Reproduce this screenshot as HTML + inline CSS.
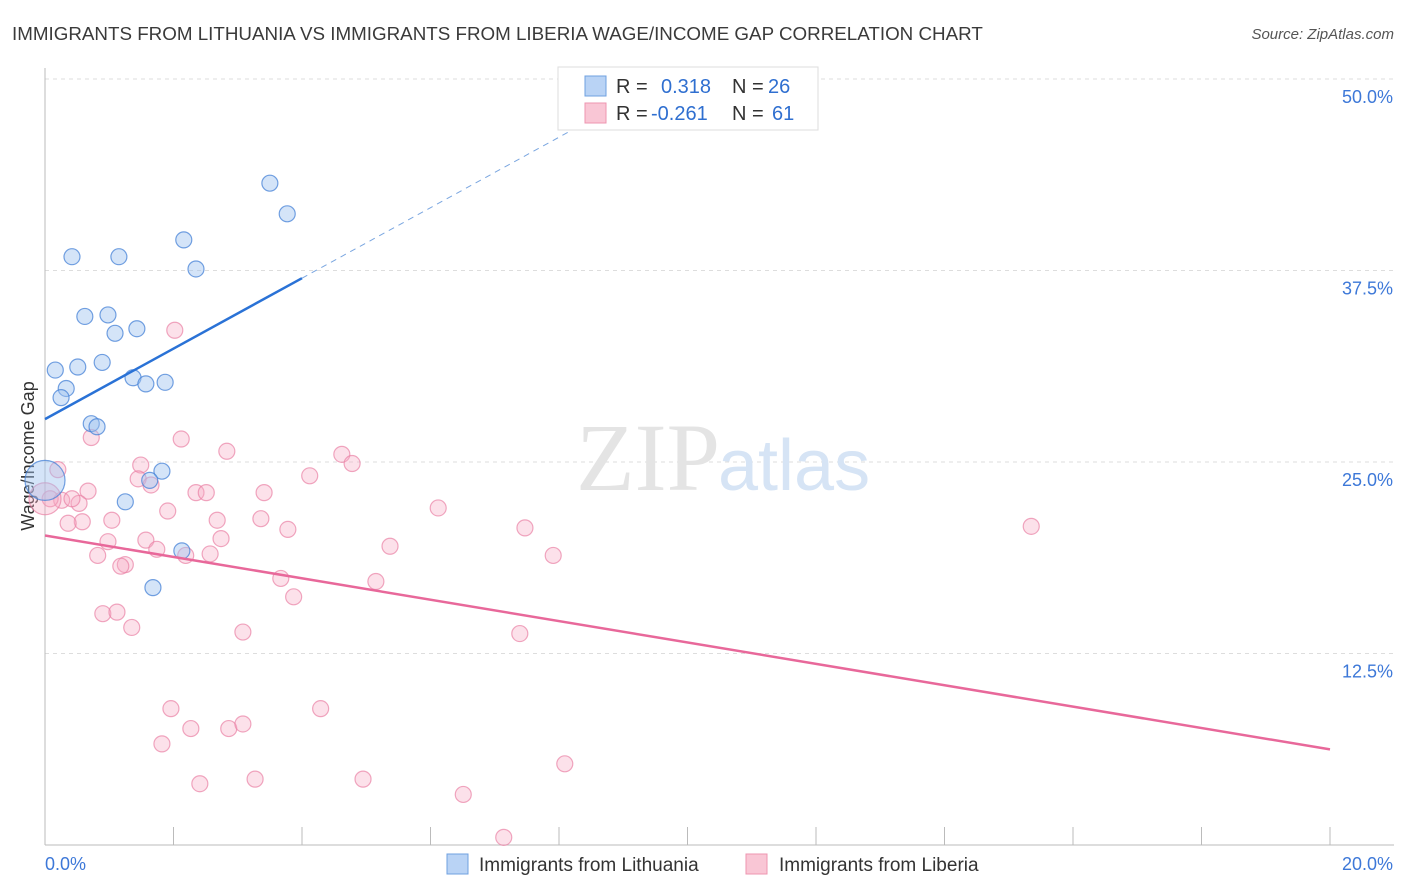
<!DOCTYPE html>
<html><head><meta charset="utf-8"><style>
body{margin:0;background:#fff;font-family:"Liberation Sans",sans-serif;}
svg{display:block}
</style></head><body>
<svg id="chart" width="1406" height="892" viewBox="0 0 1406 892" xmlns="http://www.w3.org/2000/svg">
<text x="12" y="40" font-size="18.8" fill="#3a3a3a">IMMIGRANTS FROM LITHUANIA VS IMMIGRANTS FROM LIBERIA WAGE/INCOME GAP CORRELATION CHART</text>
<text x="1394" y="39" font-size="15" fill="#555" text-anchor="end" font-style="italic">Source: ZipAtlas.com</text>
<g id="grid"></g>
<text x="720" y="490" font-size="96" fill="#e4e4e4" text-anchor="end" font-family="Liberation Serif,serif">ZIP</text>
<text x="718" y="490" font-size="72" fill="#d6e4f5">atlas</text>
<text transform="translate(34,456) rotate(-90)" font-size="18" fill="#333" text-anchor="middle">Wage/Income Gap</text>
<g id="marks"></g>
<g>
<rect x="558" y="67" width="260" height="63" fill="#fff" stroke="#ddd"/>
<rect x="585" y="76" width="21" height="20" fill="#b9d3f5" stroke="#6fa0e0"/>
<rect x="585" y="103" width="21" height="20" fill="#f9c6d5" stroke="#ee95b0"/>
<text x="616" y="93" font-size="20" fill="#333">R =</text>
<text x="661" y="93" font-size="20" fill="#2f6fd0">0.318</text>
<text x="732" y="93" font-size="20" fill="#333">N =</text>
<text x="768" y="93" font-size="20" fill="#2f6fd0">26</text>
<text x="616" y="120" font-size="20" fill="#333">R =</text>
<text x="651" y="120" font-size="20" fill="#2f6fd0">-0.261</text>
<text x="732" y="120" font-size="20" fill="#333">N =</text>
<text x="772" y="120" font-size="20" fill="#2f6fd0">61</text>
</g>
<g>
<rect x="447" y="854" width="21" height="20" fill="#b9d3f5" stroke="#6fa0e0"/>
<text x="479" y="871" font-size="19" fill="#333">Immigrants from Lithuania</text>
<rect x="746" y="854" width="21" height="20" fill="#f9c6d5" stroke="#ee95b0"/>
<text x="779" y="871" font-size="19" fill="#333">Immigrants from Liberia</text>
</g>
<text x="45" y="870" font-size="18" fill="#3d78d8">0.0%</text>
<text x="1393" y="870" font-size="18" fill="#3d78d8" text-anchor="end">20.0%</text>
</svg>
<script>
const blueX=[3.50,3.77,0.42,1.15,2.16,2.35,0.62,0.98,1.09,1.43,0.16,0.51,0.89,0.33,0.25,1.37,1.57,1.87,0.72,0.81,1.82,1.25,1.63,2.13,1.68,0];
const blueY=[43.2,41.2,38.4,38.4,39.5,37.6,34.5,34.6,33.4,33.7,31.0,31.2,31.5,29.8,29.2,30.5,30.1,30.2,27.5,27.3,24.4,22.4,23.8,19.2,16.8,23.8];
const pinkX=[2.02,2.12,0.72,2.83,4.62,4.78,0.2,1.49,4.12,1.45,1.65,0.67,2.35,2.51,3.41,0.53,0.26,0.08,6.12,1.91,1.04,0.58,0.36,2.68,3.36,3.78,7.47,15.35,2.74,0.98,1.57,1.74,5.37,0.82,2.57,2.19,7.91,1.25,1.18,3.67,5.15,3.87,0.9,1.12,1.35,3.08,7.39,1.96,4.29,2.27,2.86,3.08,1.82,8.09,2.41,3.27,4.95,6.51,7.14,0,0.42];
const pinkY=[33.6,26.5,26.6,25.7,25.5,24.9,24.5,24.8,24.1,23.9,23.5,23.1,23.0,23.0,23.0,22.3,22.5,22.6,22.0,21.8,21.2,21.1,21.0,21.2,21.3,20.6,20.7,20.8,20.0,19.8,19.9,19.3,19.5,18.9,19.0,18.9,18.9,18.3,18.2,17.4,17.2,16.2,15.1,15.2,14.2,13.9,13.8,8.9,8.9,7.6,7.6,7.9,6.6,5.3,4.0,4.3,4.3,3.3,0.5,22.6,22.6];
const blueFit=[27.8,2.3];
const pinkFit=[20.2,-0.698];
const yTicks=[12.5,25,37.5,50];
const yTickLabels=["12.5%","25.0%","37.5%","50.0%"];
const xTicks=[0,2,4,6,8,10,12,14,16,18,20];
const NS='http://www.w3.org/2000/svg';
const X0=45,X1=1330,YB=845,YT=79;
const sx=v=>X0+v/20*(X1-X0);
const sy=v=>YB-v/50*(YB-YT);
function mk(t,a,p){const e=document.createElementNS(NS,t);for(const k in a)e.setAttribute(k,a[k]);p.appendChild(e);return e;}
const grid=document.getElementById('grid'),marks=document.getElementById('marks');
yTicks.forEach((t,i)=>{
 const l=mk('line',{x1:X0,x2:1394,y1:sy(t),y2:sy(t),stroke:'#ddd','stroke-dasharray':'4,4'},grid);
 
 
 const tx=mk('text',{x:1393,y:sy(t)+24,'font-size':18,fill:'#3d78d8','text-anchor':'end'},grid);
 tx.textContent=yTickLabels[i];
 
 
});
const ax=mk('line',{x1:X0,x2:X0,y1:68,y2:YB,stroke:'#bbb'},grid);


const bx=mk('line',{x1:X0,x2:1394,y1:YB,y2:YB,stroke:'#bbb'},grid);


xTicks.forEach(t=>{const l=mk('line',{x1:sx(t),x2:sx(t),y1:YB,y2:YB-18,stroke:'#bbb'},grid);
 
 });
pinkX.forEach((x,i)=>{const big=(x===0);const c=mk('circle',{cx:sx(x),cy:sy(pinkY[i]),r:big?16:8,fill:'rgba(246,170,195,0.35)',stroke:'rgba(234,130,165,0.7)','stroke-width':1.2},marks);
 
 });
blueX.forEach((x,i)=>{const big=(x===0);const c=mk('circle',{cx:sx(x),cy:sy(blueY[i]),r:big?20:8,fill:'rgba(160,195,240,0.45)',stroke:'rgba(70,130,215,0.75)','stroke-width':1.2},marks);
 
 });
const bs=blueFit[1];
const bl=mk('line',{x1:sx(0),y1:sy(blueFit[0]),x2:sx(4),y2:sy(blueFit[0]+bs*4),stroke:'#2a72d6','stroke-width':2.5},marks);


const bd=mk('line',{x1:sx(4),y1:sy(blueFit[0]+bs*4),x2:sx(8.6),y2:sy(blueFit[0]+bs*8.6),stroke:'#7aa6e0','stroke-width':1,'stroke-dasharray':'6,5'},marks);


const pl=mk('line',{x1:sx(0),y1:sy(pinkFit[0]),x2:sx(20),y2:sy(pinkFit[0]+pinkFit[1]*20),stroke:'#e8689a','stroke-width':2.5},marks);


</script>
</body></html>
